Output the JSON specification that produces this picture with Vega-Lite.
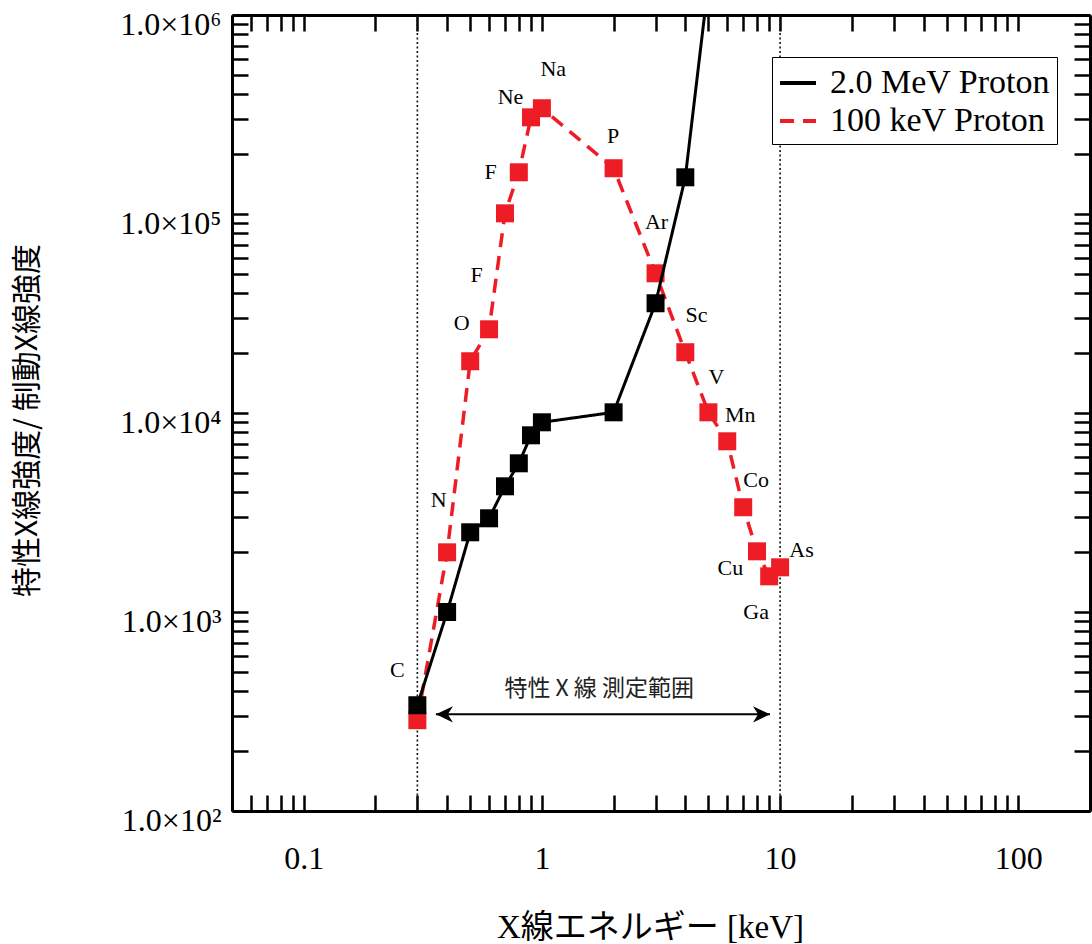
{
  "$schema": "https://vega.github.io/schema/vega-lite/v6.json",
  "width": 858,
  "height": 796,
  "autosize": "none",
  "padding": {"left": 232, "top": 15, "right": 2, "bottom": 133},
  "background": "white",
  "datasets": {
    "black": [
      {"x": 0.3, "y": 340, "series": "2.0 MeV Proton"},
      {"x": 0.4, "y": 1000, "series": "2.0 MeV Proton"},
      {"x": 0.5, "y": 2515, "series": "2.0 MeV Proton"},
      {"x": 0.6, "y": 2957, "series": "2.0 MeV Proton"},
      {"x": 0.7, "y": 4282, "series": "2.0 MeV Proton"},
      {"x": 0.8, "y": 5587, "series": "2.0 MeV Proton"},
      {"x": 0.9, "y": 7725, "series": "2.0 MeV Proton"},
      {"x": 1.0, "y": 8980, "series": "2.0 MeV Proton"},
      {"x": 2.0, "y": 10080, "series": "2.0 MeV Proton"},
      {"x": 3.0, "y": 35600, "series": "2.0 MeV Proton"},
      {"x": 4.0, "y": 152900, "series": "2.0 MeV Proton"},
      {"x": 5.0, "y": 1450000, "series": "2.0 MeV Proton"}
    ],
    "red": [
      {"x": 0.3, "y": 286, "series": "100 keV Proton"},
      {"x": 0.4, "y": 1995, "series": "100 keV Proton"},
      {"x": 0.5, "y": 18200, "series": "100 keV Proton"},
      {"x": 0.6, "y": 26340, "series": "100 keV Proton"},
      {"x": 0.7, "y": 100800, "series": "100 keV Proton"},
      {"x": 0.8, "y": 162000, "series": "100 keV Proton"},
      {"x": 0.9, "y": 306000, "series": "100 keV Proton"},
      {"x": 1.0, "y": 340000, "series": "100 keV Proton"},
      {"x": 2.0, "y": 169800, "series": "100 keV Proton"},
      {"x": 3.0, "y": 50350, "series": "100 keV Proton"},
      {"x": 4.0, "y": 20200, "series": "100 keV Proton"},
      {"x": 5.0, "y": 10080, "series": "100 keV Proton"},
      {"x": 6.0, "y": 7208, "series": "100 keV Proton"},
      {"x": 7.0, "y": 3360, "series": "100 keV Proton"},
      {"x": 8.0, "y": 2018, "series": "100 keV Proton"},
      {"x": 9.0, "y": 1511, "series": "100 keV Proton"},
      {"x": 10.0, "y": 1677, "series": "100 keV Proton"}
    ],
    "labels": [
      {"x": 0.247, "y": 509, "label": "C"},
      {"x": 0.369, "y": 3641, "label": "N"},
      {"x": 0.461, "y": 28240, "label": "O"},
      {"x": 0.532, "y": 49200, "label": "F"},
      {"x": 0.609, "y": 162000, "label": "F"},
      {"x": 0.738, "y": 385800, "label": "Ne"},
      {"x": 1.116, "y": 533500, "label": "Na"},
      {"x": 1.99, "y": 245800, "label": "P"},
      {"x": 3.03, "y": 90850, "label": "Ar"},
      {"x": 4.46, "y": 30970, "label": "Sc"},
      {"x": 5.40, "y": 15110, "label": "V"},
      {"x": 6.80, "y": 9737, "label": "Mn"},
      {"x": 7.93, "y": 4590, "label": "Co"},
      {"x": 6.18, "y": 1658, "label": "Cu"},
      {"x": 7.93, "y": 996, "label": "Ga"},
      {"x": 12.3, "y": 2042, "label": "As"}
    ],
    "guides": [{"x": 0.3}, {"x": 10}],
    "range": [{"x": 0.359, "x2": 9.07, "y": 306}],
    "headL": [{"x": 0.359, "y": 306}],
    "headR": [{"x": 9.07, "y": 306}],
    "note": [{"x": 1.74, "y": 409, "label": "特性 X 線 測定範囲"}]
  },
  "layer": [
    {
      "data": {"name": "guides"},
      "mark": {"type": "rule", "strokeDash": [2, 2.5], "color": "#111111", "strokeWidth": 1.6},
      "encoding": {
        "x": {"field": "x", "type": "quantitative", "scale": {"type": "log", "domain": [0.05, 200], "nice": false}, "axis": null}
      }
    },
    {
      "data": {"name": "range"},
      "mark": {"type": "rule", "color": "black", "strokeWidth": 2},
      "encoding": {
        "x": {"field": "x", "type": "quantitative", "scale": {"type": "log", "domain": [0.05, 200], "nice": false}, "axis": null},
        "x2": {"field": "x2"},
        "y": {"field": "y", "type": "quantitative", "scale": {"type": "log", "domain": [100, 1000000], "nice": false}, "axis": null}
      }
    },
    {
      "data": {"name": "headL"},
      "mark": {"type": "point", "shape": "M0,0L2,-0.95L1.4,0L2,0.95Z", "size": 289, "filled": true, "color": "black", "opacity": 1, "strokeWidth": 0},
      "encoding": {
        "x": {"field": "x", "type": "quantitative", "scale": {"type": "log", "domain": [0.05, 200], "nice": false}, "axis": null},
        "y": {"field": "y", "type": "quantitative", "scale": {"type": "log", "domain": [100, 1000000], "nice": false}, "axis": null}
      }
    },
    {
      "data": {"name": "headR"},
      "mark": {"type": "point", "shape": "M0,0L-2,-0.95L-1.4,0L-2,0.95Z", "size": 289, "filled": true, "color": "black", "opacity": 1, "strokeWidth": 0},
      "encoding": {
        "x": {"field": "x", "type": "quantitative", "scale": {"type": "log", "domain": [0.05, 200], "nice": false}, "axis": null},
        "y": {"field": "y", "type": "quantitative", "scale": {"type": "log", "domain": [100, 1000000], "nice": false}, "axis": null}
      }
    },
    {
      "data": {"name": "red"},
      "mark": {"type": "line", "strokeWidth": 3.5, "clip": true},
      "encoding": {
        "x": {
          "field": "x", "type": "quantitative",
          "scale": {"type": "log", "domain": [0.05, 200], "nice": false},
          "axis": {
            "orient": "bottom",
            "values": [0.05, 0.06, 0.07, 0.08, 0.09, 0.1, 0.2, 0.3, 0.4, 0.5, 0.6, 0.7, 0.8, 0.9, 1, 2, 3, 4, 5, 6, 7, 8, 9, 10, 20, 30, 40, 50, 60, 70, 80, 90, 100, 200],
            "labelExpr": "datum.value == 0.1 ? '0.1' : datum.value == 1 ? '1' : datum.value == 10 ? '10' : datum.value == 100 ? '100' : ''",
            "grid": false,
            "domain": true, "domainColor": "black", "domainWidth": 3,
            "ticks": true, "tickColor": "black", "tickWidth": 2.5, "tickSize": -16,
            "labelFont": "Liberation Serif", "labelFontSize": 32, "labelColor": "black",
            "labelPadding": 48, "labelFlush": false, "labelOverlap": false, "labelBound": false,
            "title": "X線エネルギー [keV]",
            "titleFont": "Liberation Serif, Noto Sans CJK JP", "titleFontSize": 33, "titleFontWeight": "normal", "titleColor": "black",
            "titleX": 418, "titleY": 126, "titleBaseline": "alphabetic", "titleAlign": "center",
            "encode": {"ticks": {"update": {"y2": {"signal": "indexof([0.1, 1, 10, 100], datum.value) >= 0 ? -16 : -8"}}}}
          }
        },
        "y": {
          "field": "y", "type": "quantitative",
          "scale": {"type": "log", "domain": [100, 1000000], "nice": false},
          "axis": {
            "orient": "left",
            "values": [100, 200, 300, 400, 500, 600, 700, 800, 900, 1000, 2000, 3000, 4000, 5000, 6000, 7000, 8000, 9000, 10000, 20000, 30000, 40000, 50000, 60000, 70000, 80000, 90000, 100000, 200000, 300000, 400000, 500000, 600000, 700000, 800000, 900000, 1000000],
            "labelExpr": "datum.value == 100 ? '1.0×10²' : datum.value == 1000 ? '1.0×10³' : datum.value == 10000 ? '1.0×10⁴' : datum.value == 100000 ? '1.0×10⁵' : datum.value == 1000000 ? '1.0×10⁶' : ''",
            "grid": false,
            "domain": true, "domainColor": "black", "domainWidth": 3,
            "ticks": true, "tickColor": "black", "tickWidth": 2.5, "tickSize": -16,
            "labelFont": "Liberation Serif", "labelFontSize": 32, "labelColor": "black",
            "labelPadding": 27, "labelOffset": 9, "labelFlush": false, "labelOverlap": false, "labelBound": false,
            "title": "特性X線強度/ 制動X線強度",
            "titleFont": "Noto Sans CJK JP", "titleFontSize": 30, "titleFontWeight": "normal", "titleColor": "black",
            "titleX": -205, "titleY": 405, "titleAngle": 270, "titleBaseline": "middle", "titleAlign": "center",
            "encode": {"ticks": {"update": {"x2": {"signal": "indexof([100, 1000, 10000, 100000, 1000000], datum.value) >= 0 ? 16 : 8"}}}}
          }
        },
        "color": {
          "field": "series", "type": "nominal",
          "scale": {"domain": ["2.0 MeV Proton", "100 keV Proton"], "range": ["#000000", "#ee1c25"]},
          "legend": {"orient": "none", "legendX": 540, "legendY": 42, "title": null}
        },
        "strokeDash": {
          "field": "series", "type": "nominal",
          "scale": {"domain": ["2.0 MeV Proton", "100 keV Proton"], "range": [[1, 0], [14, 9]]},
          "legend": {"orient": "none", "legendX": 540, "legendY": 42, "title": null}
        }
      }
    },
    {
      "data": {"name": "red"},
      "mark": {"type": "point", "shape": "square", "size": 324, "filled": true, "color": "#ee1c25", "opacity": 1, "strokeWidth": 0, "clip": true},
      "encoding": {
        "x": {"field": "x", "type": "quantitative", "scale": {"type": "log", "domain": [0.05, 200], "nice": false}, "axis": null},
        "y": {"field": "y", "type": "quantitative", "scale": {"type": "log", "domain": [100, 1000000], "nice": false}, "axis": null}
      }
    },
    {
      "data": {"name": "black"},
      "mark": {"type": "line", "strokeWidth": 3, "clip": true},
      "encoding": {
        "x": {
          "field": "x", "type": "quantitative",
          "scale": {"type": "log", "domain": [0.05, 200], "nice": false},
          "axis": {
            "orient": "top",
            "values": [0.05, 0.06, 0.07, 0.08, 0.09, 0.1, 0.2, 0.3, 0.4, 0.5, 0.6, 0.7, 0.8, 0.9, 1, 2, 3, 4, 5, 6, 7, 8, 9, 10, 20, 30, 40, 50, 60, 70, 80, 90, 100, 200],
            "labels": false, "grid": false, "title": null,
            "domain": true, "domainColor": "black", "domainWidth": 3,
            "ticks": true, "tickColor": "black", "tickWidth": 2.5, "tickSize": -16,
            "encode": {"ticks": {"update": {"y2": {"signal": "indexof([0.1, 1, 10, 100], datum.value) >= 0 ? 16 : 8"}}}}
          }
        },
        "y": {
          "field": "y", "type": "quantitative",
          "scale": {"type": "log", "domain": [100, 1000000], "nice": false},
          "axis": {
            "orient": "right",
            "values": [100, 200, 300, 400, 500, 600, 700, 800, 900, 1000, 2000, 3000, 4000, 5000, 6000, 7000, 8000, 9000, 10000, 20000, 30000, 40000, 50000, 60000, 70000, 80000, 90000, 100000, 200000, 300000, 400000, 500000, 600000, 700000, 800000, 900000, 1000000],
            "labels": false, "grid": false, "title": null,
            "domain": true, "domainColor": "black", "domainWidth": 3,
            "ticks": true, "tickColor": "black", "tickWidth": 2.5, "tickSize": -16,
            "encode": {"ticks": {"update": {"x2": {"signal": "indexof([100, 1000, 10000, 100000, 1000000], datum.value) >= 0 ? -16 : -8"}}}}
          }
        },
        "color": {
          "field": "series", "type": "nominal",
          "scale": {"domain": ["2.0 MeV Proton", "100 keV Proton"], "range": ["#000000", "#ee1c25"]},
          "legend": {"orient": "none", "legendX": 540, "legendY": 42, "title": null}
        },
        "strokeDash": {
          "field": "series", "type": "nominal",
          "scale": {"domain": ["2.0 MeV Proton", "100 keV Proton"], "range": [[1, 0], [14, 9]]},
          "legend": {"orient": "none", "legendX": 540, "legendY": 42, "title": null}
        }
      }
    },
    {
      "data": {"name": "black"},
      "mark": {"type": "point", "shape": "square", "size": 324, "filled": true, "color": "#000000", "opacity": 1, "strokeWidth": 0, "clip": true},
      "encoding": {
        "x": {"field": "x", "type": "quantitative", "scale": {"type": "log", "domain": [0.05, 200], "nice": false}, "axis": null},
        "y": {"field": "y", "type": "quantitative", "scale": {"type": "log", "domain": [100, 1000000], "nice": false}, "axis": null}
      }
    },
    {
      "data": {"name": "labels"},
      "mark": {"type": "text", "font": "Liberation Serif", "fontSize": 22, "color": "black", "align": "center", "baseline": "middle"},
      "encoding": {
        "x": {"field": "x", "type": "quantitative", "scale": {"type": "log", "domain": [0.05, 200], "nice": false}, "axis": null},
        "y": {"field": "y", "type": "quantitative", "scale": {"type": "log", "domain": [100, 1000000], "nice": false}, "axis": null},
        "text": {"field": "label"}
      }
    },
    {
      "data": {"name": "note"},
      "mark": {"type": "text", "font": "Noto Sans CJK JP", "fontSize": 23, "color": "#222222", "align": "center", "baseline": "middle"},
      "encoding": {
        "x": {"field": "x", "type": "quantitative", "scale": {"type": "log", "domain": [0.05, 200], "nice": false}, "axis": null},
        "y": {"field": "y", "type": "quantitative", "scale": {"type": "log", "domain": [100, 1000000], "nice": false}, "axis": null},
        "text": {"field": "label"}
      }
    }
  ],
  "resolve": {"axis": {"x": "independent", "y": "independent"}},
  "config": {
    "view": {"stroke": null},
    "font": "Liberation Serif",
    "legend": {
      "symbolType": "stroke",
      "symbolSize": 1296,
      "symbolStrokeWidth": 4,
      "labelFont": "Liberation Serif",
      "labelFontSize": 34,
      "labelColor": "black",
      "labelOffset": 12,
      "labelLimit": 400,
      "strokeColor": "black",
      "fillColor": "white",
      "padding": 6,
      "rowPadding": 1
    }
  }
}
